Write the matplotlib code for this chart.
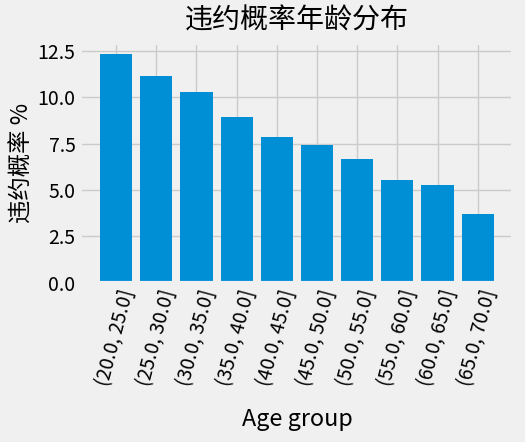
import matplotlib
matplotlib.use("Agg")
import matplotlib.pyplot as plt

plt.style.use("fivethirtyeight")
plt.rcParams['font.family'] = ['Noto Sans CJK SC', 'DejaVu Sans']
plt.rcParams['axes.unicode_minus'] = False

age_groups = ["(20.0, 25.0]", "(25.0, 30.0]", "(30.0, 35.0]", "(35.0, 40.0]",
              "(40.0, 45.0]", "(45.0, 50.0]", "(50.0, 55.0]", "(55.0, 60.0]",
              "(60.0, 65.0]", "(65.0, 70.0]"]
default_rate = [12.31, 11.14, 10.29, 8.96, 7.84, 7.41, 6.66, 5.54, 5.28, 3.73]

fig = plt.figure(figsize=(5.25, 4.42), dpi=100)
ax = fig.add_axes([0.153, 0.36, 0.825, 0.543])
ax.bar(age_groups, default_rate)
ax.set_xticks(range(len(age_groups)))
ax.set_xticklabels(age_groups, rotation=75)
ax.set_xlabel("Age group", labelpad=14)
ax.set_ylabel("违约概率 %", labelpad=3)
ax.set_title("违约概率年龄分布", pad=10)
fig.savefig("out.png", dpi=100)
